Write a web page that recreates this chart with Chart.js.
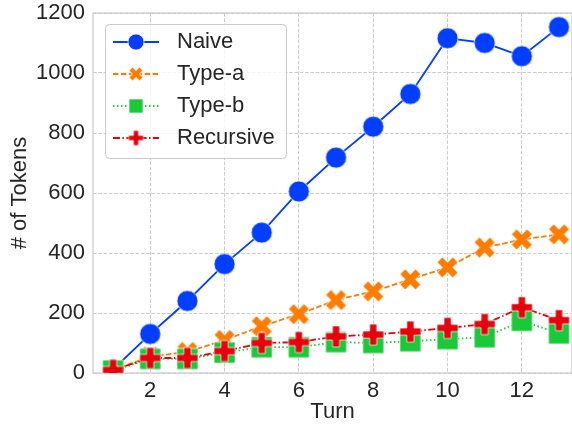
<!DOCTYPE html>
<html>
<head>
<meta charset="utf-8">
<title># of Tokens per Turn</title>
<script src="https://cdn.jsdelivr.net/npm/chart.js@4.4.1/dist/chart.umd.min.js"></script>
<style>
  body { margin: 0; background: #fff; }
  canvas { display: block; }
</style>
</head>
<body>
<canvas id="chart" width="572" height="428"></canvas>
<script>
// Values
const turns = [1, 2, 3, 4, 5, 6, 7, 8, 9, 10, 11, 12, 13];
const naive = [12, 130, 240, 363, 468, 605, 718, 821, 930, 1116, 1100, 1056, 1153];
const typeA = [10, 55, 70, 110, 156, 196, 243, 272, 312, 352, 418, 445, 462];
const typeB = [8, 47, 47, 68, 86, 86, 103, 100, 106, 113, 119, 174, 132];
const recursive = [10, 50, 50, 73, 100, 103, 122, 128, 138, 150, 163, 219, 176];

const xTicks = [2, 4, 6, 8, 10, 12];
const yTicks = [0, 200, 400, 600, 800, 1000, 1200];

const FONT = "'Liberation Sans', Arial, sans-serif";
const TEXT = '#262626';
const GRID = '#cccccc';

// Filled marker shapes (matplotlib style, thin white edge)
function makeMarker(shape, size, color) {
    const pad = 2;
    const c = document.createElement('canvas');
    c.width = c.height = Math.ceil(size + pad * 2);
    const ctx = c.getContext('2d');
    const r = size / 2;
    ctx.translate(c.width / 2, c.height / 2);
    ctx.beginPath();
    if (shape === 'circle') {
        ctx.arc(0, 0, r, 0, Math.PI * 2);
    } else if (shape === 'square') {
        ctx.rect(-r, -r, size, size);
    } else {
        let a = r, b = r * 0.34;
        if (shape === 'x') {
            a = r * Math.SQRT2 / 1.34;
            b = a * 0.34;
            ctx.rotate(Math.PI / 4);
        }
        const pts = [[-b, -a], [b, -a], [b, -b], [a, -b], [a, b], [b, b],
                     [b, a], [-b, a], [-b, b], [-a, b], [-a, -b], [-b, -b]];
        pts.forEach((p, i) => i ? ctx.lineTo(p[0], p[1]) : ctx.moveTo(p[0], p[1]));
        ctx.closePath();
    }
    ctx.fillStyle = color;
    ctx.fill();
    ctx.strokeStyle = 'rgba(255,255,255,0.7)';
    ctx.lineWidth = 1;
    ctx.stroke();
    return c;
}

const styles = [
    { label: 'Naive', values: naive, color: '#023eff', shape: 'circle', size: 21, legendSize: 16, dash: [], order: 3 },
    { label: 'Type-a', values: typeA, color: '#ff7c00', shape: 'x', size: 21, legendSize: 14, dash: [5.5, 2.4], order: 2 },
    { label: 'Type-b', values: typeB, color: '#1ac938', shape: 'square', size: 21, legendSize: 14, dash: [1.5, 2.5], order: 1 },
    { label: 'Recursive', values: recursive, color: '#e8000b', shape: 'plus', size: 21, legendSize: 15, dash: [7, 2.4, 1.5, 2.4], order: 0 }
];

const legendMarkers = styles.map(s => makeMarker(s.shape, s.legendSize, s.color));

const datasets = styles.map(s => ({
    label: s.label,
    data: turns.map((t, i) => ({ x: t, y: s.values[i] })),
    borderColor: s.color,
    backgroundColor: s.color,
    borderWidth: 1.8,
    borderDash: s.dash,
    pointStyle: makeMarker(s.shape, s.size, s.color),
    pointRadius: 11,
    pointHoverRadius: 11,
    tension: 0,
    clip: 0,
    order: s.order
}));

// Solid frame round the plot area
const framePlugin = {
    id: 'frame',
    beforeDatasetsDraw(chart) {
        const { ctx, chartArea: a } = chart;
        ctx.save();
        ctx.strokeStyle = GRID;
        ctx.lineWidth = 1.25;
        ctx.strokeRect(a.left, a.top, a.right - a.left, a.bottom - a.top);
        ctx.restore();
    }
};

// Legend box with line + marker samples
const legendPlugin = {
    id: 'boxLegend',
    afterDatasetsDraw(chart) {
        const { ctx, chartArea } = chart;
        const x0 = chartArea.left + 12, y0 = chartArea.top + 11, w = 181, h = 134;
        ctx.save();
        ctx.beginPath();
        ctx.roundRect(x0 + 0.5, y0 + 0.5, w, h, 4);
        ctx.fillStyle = 'rgba(255,255,255,0.8)';
        ctx.fill();
        ctx.strokeStyle = GRID;
        ctx.lineWidth = 1;
        ctx.stroke();
        chart.data.datasets.forEach((ds, i) => {
            const y = y0 + 18 + i * 32;
            ctx.beginPath();
            ctx.setLineDash(ds.borderDash);
            ctx.strokeStyle = ds.borderColor;
            ctx.lineWidth = ds.borderWidth;
            ctx.moveTo(x0 + 8, y);
            ctx.lineTo(x0 + 54, y);
            ctx.stroke();
            ctx.setLineDash([]);
            const mk = legendMarkers[i];
            ctx.drawImage(mk, x0 + 31 - mk.width / 2, y - mk.height / 2);
            ctx.fillStyle = TEXT;
            ctx.font = '22px ' + FONT;
            ctx.textBaseline = 'middle';
            ctx.fillText(ds.label, x0 + 72, y);
        });
        ctx.restore();
    }
};

const tickFont = { family: FONT, size: 22 };

function noPadding(s) {
    s.paddingTop = 0;
    s.paddingBottom = 0;
    s.paddingLeft = 0;
    s.paddingRight = 0;
}

new Chart(document.getElementById('chart'), {
    type: 'line',
    data: { datasets },
    plugins: [framePlugin, legendPlugin],
    options: {
        responsive: false,
        animation: false,
        devicePixelRatio: 1,
        layout: { autoPadding: false, padding: { top: 13, right: 0, left: 0, bottom: 0 } },
        plugins: { legend: { display: false }, tooltip: { enabled: false } },
        scales: {
            x: {
                type: 'linear',
                min: 0.46,
                max: 13.35,
                afterBuildTicks: s => { s.ticks = xTicks.map(v => ({ value: v })); },
                afterFit: s => { s.height = 55; noPadding(s); },
                grid: { color: GRID, lineWidth: 1, drawTicks: false },
                border: { display: false, dash: [3.7, 1.6] },
                ticks: { font: tickFont, color: TEXT, padding: 5, callback: v => String(v) },
                title: { display: true, text: 'Turn', font: tickFont, color: TEXT, padding: { top: 0, bottom: 3 } }
            },
            y: {
                type: 'linear',
                min: 0,
                max: 1200,
                afterBuildTicks: s => { s.ticks = yTicks.map(v => ({ value: v })); },
                afterFit: s => { s.width = 93; noPadding(s); },
                grid: { color: GRID, lineWidth: 1, drawTicks: false },
                border: { display: false, dash: [3.7, 1.6] },
                ticks: { font: tickFont, color: TEXT, padding: 8, callback: v => String(v) },
                title: { display: true, text: '# of Tokens', font: tickFont, color: TEXT, padding: { top: 7, bottom: 0 } }
            }
        }
    }
});
</script>
</body>
</html>
